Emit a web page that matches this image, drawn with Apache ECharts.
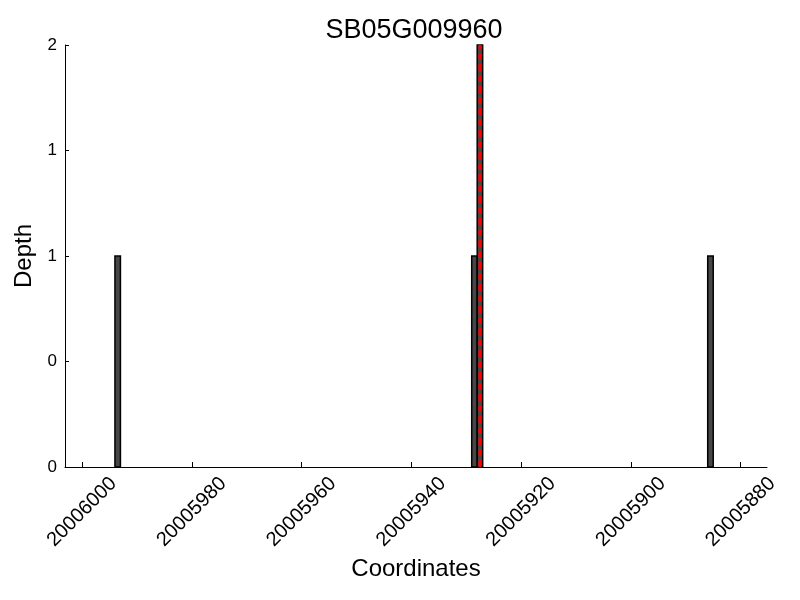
<!DOCTYPE html>
<html>
<head>
<meta charset="utf-8">
<script src="https://cdn.jsdelivr.net/npm/echarts@6/dist/echarts.min.js"></script>
<style>
  html, body { margin: 0; padding: 0; background: #fff; }
  #chart { width: 800px; height: 600px; }
</style>
</head>
<body>
<div id="chart"></div>
<script>
const title = 'SB05G009960'
// coverage bins (1 bp each): start coordinate and depth
const binStart = [20005993, 20005928, 20005927, 20005885]
const binDepth = [1, 1, 2, 1]
const markerPos = 20005927.5
const xTicks = [20006000, 20005980, 20005960, 20005940, 20005920, 20005900, 20005880]
const yTicks = [0, 0.5, 1, 1.5, 2]
const yTickLabels = ['0', '0', '1', '1', '2']

const chart = echarts.init(document.getElementById('chart'))
const font = 'Liberation Sans, Arial, sans-serif'

function renderBin(params, api) {
  const p0 = api.coord([api.value(0), 0])
  const p1 = api.coord([api.value(1), api.value(2)])
  return {
    type: 'rect',
    shape: {
      x: Math.min(p0[0], p1[0]),
      y: p1[1],
      width: Math.abs(p1[0] - p0[0]),
      height: p0[1] - p1[1],
    },
    style: { fill: '#474747', stroke: '#000', lineWidth: 1.5 },
  }
}

chart.setOption({
  animation: false,
  title: {
    text: title,
    left: 409,
    textAlign: 'center',
    top: 12,
    textStyle: { fontFamily: font, fontSize: 27, fontWeight: 'normal', color: '#000' },
  },
  grid: { left: 65, right: 33, top: 45, bottom: 133 },
  xAxis: {
    type: 'value',
    inverse: true,
    min: 20005875.2,
    max: 20006003.1,
    name: 'Coordinates',
    nameLocation: 'middle',
    nameGap: 89,
    nameTextStyle: { fontFamily: font, fontSize: 24, color: '#000' },
    axisLine: { show: true, lineStyle: { color: '#000', width: 1 } },
    axisTick: { show: true, inside: true, length: 5, customValues: xTicks, lineStyle: { color: '#000' } },
    axisLabel: {
      customValues: xTicks,
      formatter: (v) => String(v),
      rotate: 45,
      align: 'center',
      verticalAlign: 'middle',
      fontFamily: font,
      fontSize: 20,
      color: '#000',
      margin: 45,
    },
    splitLine: { show: false },
  },
  yAxis: {
    type: 'value',
    min: 0,
    max: 2,
    name: 'Depth',
    nameLocation: 'middle',
    nameGap: 28,
    nameTextStyle: { fontFamily: font, fontSize: 24, color: '#000' },
    axisLine: { show: true, lineStyle: { color: '#000', width: 1 } },
    axisTick: { show: true, inside: true, length: 4, customValues: yTicks, lineStyle: { color: '#000' } },
    axisLabel: {
      customValues: yTicks,
      formatter: (v) => yTickLabels[yTicks.indexOf(v)],
      fontFamily: font,
      fontSize: 17,
      color: '#000',
      margin: 8,
    },
    splitLine: { show: false },
  },
  series: [
    {
      type: 'custom',
      renderItem: renderBin,
      encode: { x: [0, 1], y: 2 },
      data: binStart.map((s, i) => [s, s + 1, binDepth[i]]),
      z: 2,
    },
    {
      type: 'line',
      data: [[markerPos, 0], [markerPos, 2]],
      symbol: 'none',
      lineStyle: { color: '#ff0000', width: 3, type: [7, 4] },
      z: 3,
    },
  ],
})
</script>
</body>
</html>
